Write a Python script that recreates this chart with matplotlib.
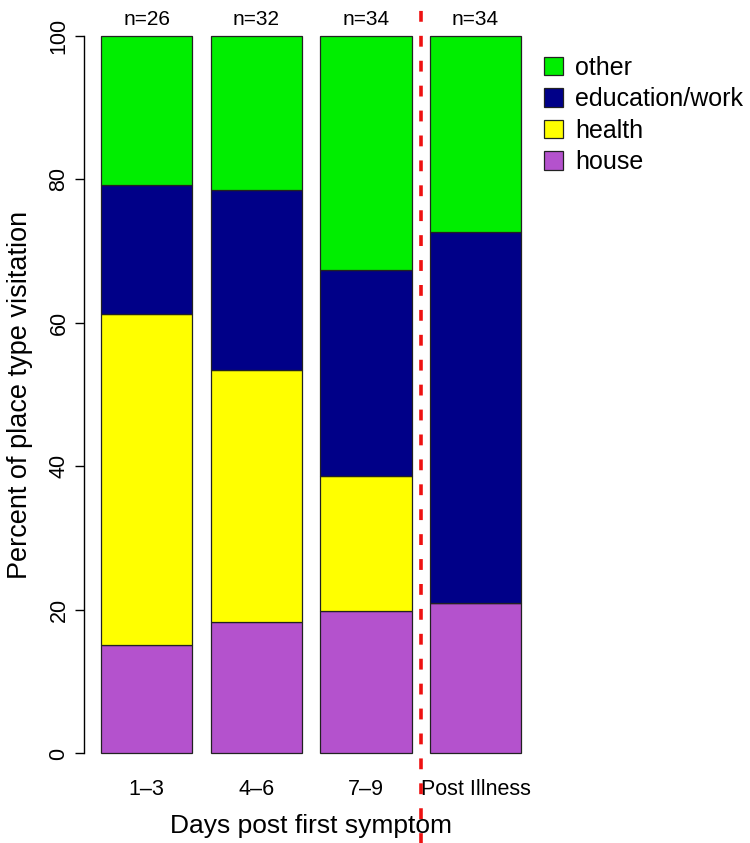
import matplotlib
matplotlib.use("Agg")
import matplotlib.pyplot as plt
import numpy as np

categories = ["1\u20133", "4\u20136", "7\u20139", "Post Illness"]
n_labels = ["n=26", "n=32", "n=34", "n=34"]
series_names = ["house", "health", "education/work", "other"]
house = [15.1, 18.3, 19.9, 21.0]
health = [46.1, 35.1, 18.7, 0.0]
education_work = [18.0, 25.1, 28.8, 51.7]
other = [20.8, 21.5, 32.6, 27.3]
colors = {"house": "#B452CD", "health": "#FFFF00",
          "education/work": "#000088", "other": "#00EE00"}

plt.rcParams['font.family'] = ['Liberation Sans', 'DejaVu Sans']

fig = plt.figure(figsize=(7.5, 8.43), dpi=100)
ax = fig.add_axes([84.2 / 750, 1 - 782.2 / 843, (538.1 - 84.2) / 750, (782.2 - 7) / 843])

width = 1.0
x = np.array([0.7, 1.9, 3.1, 4.3])
values = [house, health, education_work, other]
bottom = np.zeros(len(categories))
for name, vals in zip(series_names, values):
    v = np.array(vals)
    ax.bar(x, v, width=width, bottom=bottom, color=colors[name],
           edgecolor="#222222", linewidth=0.9, label=name, zorder=2)
    bottom = bottom + v

ax.set_xlim(0.016, 4.984)
ax.set_ylim(-4, 104)

for s in ["top", "right", "bottom"]:
    ax.spines[s].set_visible(False)
ax.spines["left"].set_bounds(0, 100)
ax.spines["left"].set_linewidth(1.0)
ax.set_yticks([0, 20, 40, 60, 80, 100])
ax.set_yticklabels(["0", "20", "40", "60", "80", "100"], rotation=90, va="center")
ax.tick_params(axis="y", length=6.5, width=1.0, labelsize=15.5, pad=4)
ax.set_xticks(x)
ax.set_xticklabels(categories)
ax.tick_params(axis="x", length=0, labelsize=15.5, pad=-2)

ax.set_ylabel("Percent of place type visitation", fontsize=19.5, labelpad=11)
ax.set_xlabel("Days post first symptom", fontsize=19, labelpad=10)

for xi, lab in zip(x, n_labels):
    ax.text(xi, 102.2, lab, ha="center", va="center", fontsize=15)

ax.axvline((x[2] + x[3]) / 2, ymin=-0.1, ymax=1.05, color="#EE1111",
           linewidth=2.6, linestyle=(0, (3.0, 3.9)), clip_on=False, zorder=3)

handles, labels = ax.get_legend_handles_labels()
leg = ax.legend(handles[::-1], labels[::-1], loc="upper left",
                bbox_to_anchor=(1.013, 0.937), frameon=False, fontsize=18,
                handlelength=0.75, handleheight=0.75, handletextpad=0.5,
                labelspacing=0.3, borderaxespad=0.0, borderpad=0.0)

fig.savefig("out.png", dpi=100)
